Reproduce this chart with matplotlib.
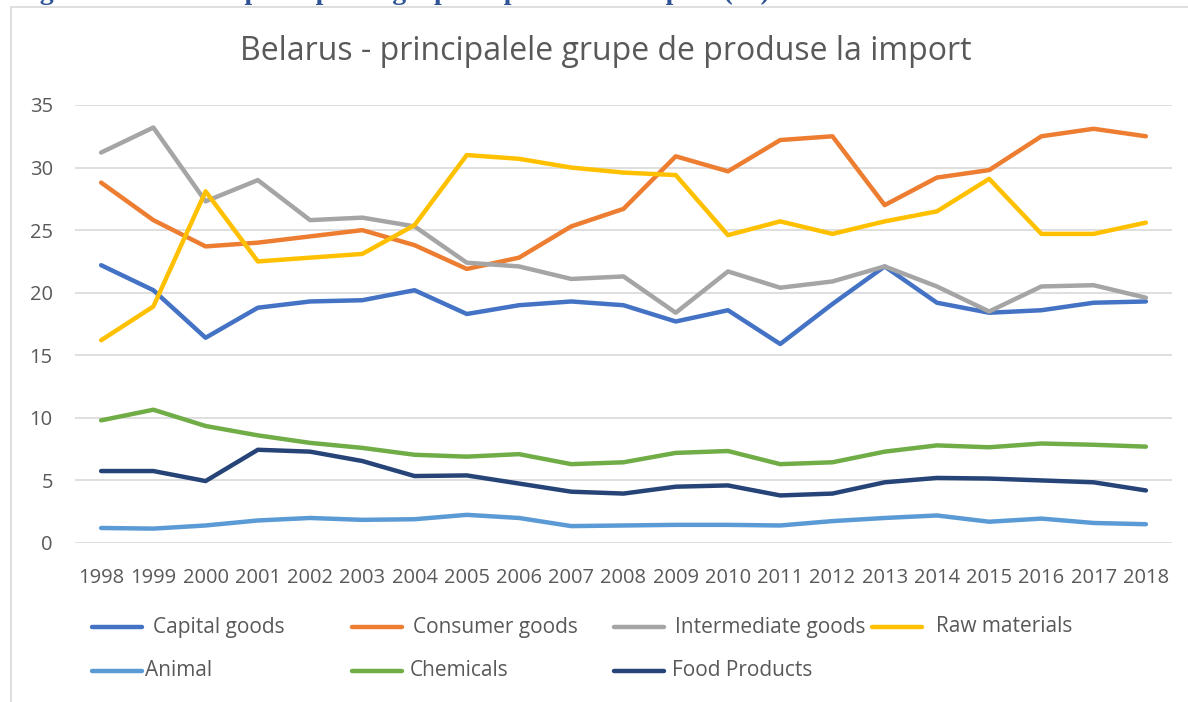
import matplotlib.pyplot as plt
from matplotlib.lines import Line2D
from matplotlib.patches import Rectangle

years = [str(y) for y in range(1998, 2019)]

capital_goods = [22.2, 20.2, 16.4, 18.8, 19.3, 19.4, 20.2, 18.3, 19.0, 19.3, 19.0,
                 17.7, 18.6, 15.9, 19.1, 22.1, 19.2, 18.4, 18.6, 19.2, 19.3]
consumer_goods = [28.8, 25.8, 23.7, 24.0, 24.5, 25.0, 23.8, 21.9, 22.8, 25.3, 26.7,
                  30.9, 29.7, 32.2, 32.5, 27.0, 29.2, 29.8, 32.5, 33.1, 32.5]
intermediate_goods = [31.2, 33.2, 27.3, 29.0, 25.8, 26.0, 25.3, 22.4, 22.1, 21.1, 21.3,
                      18.4, 21.7, 20.4, 20.9, 22.1, 20.5, 18.5, 20.5, 20.6, 19.6]
raw_materials = [16.2, 18.9, 28.1, 22.5, 22.8, 23.1, 25.4, 31.0, 30.7, 30.0, 29.6,
                 29.4, 24.6, 25.7, 24.7, 25.7, 26.5, 29.1, 24.7, 24.7, 25.6]
animal = [1.2, 1.15, 1.4, 1.8, 2.0, 1.85, 1.9, 2.25, 2.0, 1.35, 1.4,
          1.45, 1.45, 1.4, 1.75, 2.0, 2.2, 1.7, 1.95, 1.6, 1.5]
chemicals = [9.8, 10.65, 9.35, 8.6, 8.0, 7.6, 7.05, 6.9, 7.1, 6.3, 6.45,
             7.2, 7.35, 6.3, 6.45, 7.3, 7.8, 7.65, 7.95, 7.85, 7.7]
food_products = [5.75, 5.75, 4.95, 7.45, 7.3, 6.55, 5.35, 5.4, 4.75, 4.1, 3.95,
                 4.5, 4.6, 3.8, 3.95, 4.85, 5.2, 5.15, 5.0, 4.85, 4.2]

series = [
    ('Capital goods', capital_goods, '#4472C4'),
    ('Consumer goods', consumer_goods, '#ED7D31'),
    ('Intermediate goods', intermediate_goods, '#A5A5A5'),
    ('Raw materials', raw_materials, '#FFC000'),
    ('Animal', animal, '#5B9BD5'),
    ('Chemicals', chemicals, '#70AD47'),
    ('Food Products', food_products, '#264478'),
]

W, H = 1188, 702
fig = plt.figure(figsize=(W / 100, H / 100), dpi=100)
txt = '#595959'
fnt = 'Open Sans'

# chenarul graficului (taiat in dreapta si jos)
fig.patches.append(Rectangle((11 / W, -0.05), 1.1, 1 - 7 / H + 0.05, transform=fig.transFigure,
                             fill=False, edgecolor='#D9D9D9', linewidth=1.2))

# legenda figurii din document, aproape complet taiata sus
fig.text(15 / W, 1 + 1 / H, 'Figura 8. Belarus - principalele grupe de produse la import (%)',
         family='Liberation Serif', weight='bold', fontsize=20, color='#2F5496', va='baseline')

ax = fig.add_axes([75 / W, 1 - 543 / H, (1172 - 75) / W, (543 - 105) / H])
x = range(len(years))
for name, vals, col in series:
    ax.plot(x, vals, color=col, linewidth=3.2, solid_capstyle='round', solid_joinstyle='round')

ax.set_xlim(-0.5, len(years) - 0.5)
ax.set_ylim(0, 35)
ax.set_yticks(range(0, 36, 5))
ax.set_xticks(list(x))
ax.set_xticklabels(years)
ax.grid(axis='y', color='#D9D9D9', linewidth=1.2)
ax.set_axisbelow(True)
for s in ax.spines.values():
    s.set_visible(False)
ax.tick_params(length=0, labelsize=14.5, labelcolor=txt)
ax.tick_params(axis='x', pad=18)
ax.tick_params(axis='y', pad=16)
for lab in ax.get_xticklabels() + ax.get_yticklabels():
    lab.set_family(fnt)

fig.text(606 / W, 1 - 51 / H, 'Belarus - principalele grupe de produse la import',
         ha='center', va='center', fontsize=23, color=txt, family=fnt)

# legenda
col_x = [92, 352, 614, 872]
row_y = [627, 671]
gaps = [11, 11, 11, 14, 3, 8, 8]
for i, (name, vals, col) in enumerate(series):
    r, c = divmod(i, 4)
    x0 = col_x[c]
    y0 = 1 - row_y[r] / H
    fig.lines.append(Line2D([x0 / W, (x0 + 50) / W], [y0, y0], transform=fig.transFigure,
                            color=col, linewidth=3.2, solid_capstyle='round'))
    fig.text((x0 + 50 + gaps[i]) / W, y0, name, va='center', fontsize=15, color=txt, family=fnt)

fig.savefig('out.png', dpi=100)
